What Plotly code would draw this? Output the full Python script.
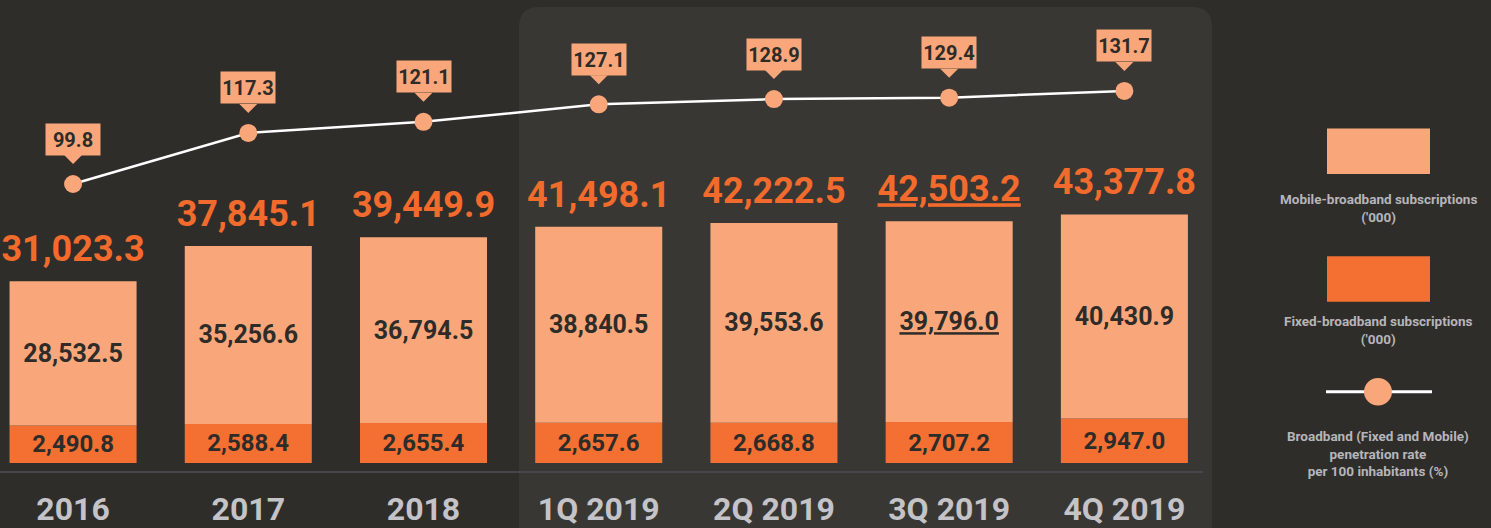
import plotly.graph_objects as go

categories = ['2016', '2017', '2018', '1Q 2019', '2Q 2019', '3Q 2019', '4Q 2019']
mobile = [28532.5, 35256.6, 36794.5, 38840.5, 39553.6, 39796.0, 40430.9]
fixed = [2490.8, 2588.4, 2655.4, 2657.6, 2668.8, 2707.2, 2947.0]
total = [31023.3, 37845.1, 39449.9, 41498.1, 42222.5, 42503.2, 43377.8]
penetration = [99.8, 117.3, 121.1, 127.1, 128.9, 129.4, 131.7]
underlined = '3Q 2019'

BG = '#2f2d2a'
PANEL = '#393733'
LIGHT = '#f9a77a'
ORANGE = '#f37032'
TOTAL_C = '#f26b2d'
DARK = '#2e2c29'
GREY = '#c4c3c8'
LEG_GREY = '#b6b5ba'
FONT = 'Roboto, Liberation Sans, sans-serif'

W, H = 1491, 528
ML, MR, MT, MB = 0, 279, 0, 60
PW, PH = W - ML - MR, H - MT - MB

# the infographic draws the fixed segment on a stretched scale
FIXED_PER_PX = 65.5
MOBILE_PER_PX = 196
base = [f * MOBILE_PER_PX / FIXED_PER_PX for f in fixed]
tops = [b + m for b, m in zip(base, mobile)]


def fmt(v, c):
    s = f"{v:,.1f}"
    return f"<u>{s}</u>" if c == underlined else s


def px(x):
    return (x - ML) / PW


def py(y):
    return (PH + MT - y) / PH


fig = go.Figure()

fig.add_trace(go.Bar(
    x=categories, y=fixed, yaxis='y', width=0.725,
    marker=dict(color=ORANGE, line=dict(width=0)),
    text=[f"{v:,.1f}" for v in fixed], textposition='inside',
    insidetextanchor='middle', textangle=0, constraintext='none',
    insidetextfont=dict(family=FONT, size=24, color=DARK, weight='bold'),
    hoverinfo='skip'
))

fig.add_trace(go.Bar(
    x=categories, y=mobile, base=base, yaxis='y2', width=0.725,
    marker=dict(color=LIGHT, line=dict(width=0)),
    text=[fmt(v, c) for v, c in zip(mobile, categories)], textposition='inside',
    insidetextanchor='middle', textangle=0, constraintext='none',
    insidetextfont=dict(family=FONT, size=25, color=DARK, weight='bold'),
    hoverinfo='skip'
))

fig.add_trace(go.Scatter(
    x=categories, y=tops, yaxis='y2', mode='markers+text',
    marker=dict(size=16, opacity=0),
    text=[fmt(v, c) for v, c in zip(total, categories)],
    textposition='top center',
    textfont=dict(family=FONT, size=36, color=TOTAL_C, weight='bold'),
    cliponaxis=False, hoverinfo='skip'
))

fig.add_trace(go.Scatter(
    x=categories, y=penetration, yaxis='y3', mode='lines+markers',
    line=dict(color='white', width=2.5),
    marker=dict(size=18, color=LIGHT),
    cliponaxis=False, hoverinfo='skip'
))

# category axis: annotation positions go by category index
for i, v in enumerate(penetration):
    fig.add_annotation(
        x=i, y=v, xref='x', yref='y3', text=f"{v:.1f}",
        showarrow=True, ax=0, ay=-45, standoff=20,
        arrowhead=1, arrowsize=3, arrowwidth=1, arrowcolor=LIGHT,
        bgcolor=LIGHT, width=54, height=31, borderpad=0,
        font=dict(family=FONT, size=20, color=DARK, weight='bold')
    )

shapes = [
    # highlighted 2019 panel with rounded top corners
    dict(type='path', xref='paper', yref='paper',
         xsizemode='pixel', ysizemode='pixel', xanchor=1, yanchor=1,
         path='M-693,-700 L-693,-27 Q-693,-7 -673,-7 L-20,-7 Q0,-7 0,-27 L0,-700 Z',
         fillcolor=PANEL, line=dict(width=0), layer='below'),
    # baseline under the bars
    dict(type='line', xref='paper', yref='paper', x0=0, x1=px(1203),
         y0=py(477), y1=py(477), line=dict(color='#48464b', width=2), layer='below'),
    # legend swatches
    dict(type='rect', xref='paper', yref='paper', x0=px(1327), x1=px(1430),
         y0=py(130), y1=py(176), fillcolor=LIGHT, line=dict(width=0)),
    dict(type='rect', xref='paper', yref='paper', x0=px(1327), x1=px(1430),
         y0=py(259), y1=py(305), fillcolor=ORANGE, line=dict(width=0)),
    dict(type='line', xref='paper', yref='paper', x0=px(1326), x1=px(1432),
         y0=py(396), y1=py(396), line=dict(color='white', width=3)),
    dict(type='circle', xref='paper', yref='paper', x0=px(1364), x1=px(1392),
         y0=py(382), y1=py(410), fillcolor=LIGHT, line=dict(width=0)),
]

legend_text = [
    ("Mobile-broadband subscriptions<br>('000)", 210),
    ("Fixed-broadband subscriptions<br>('000)", 334),
    ("Broadband (Fixed and Mobile)<br>penetration rate<br>per 100 inhabitants (%)", 458),
]
for t, y in legend_text:
    fig.add_annotation(
        x=px(1378), y=py(y), xref='paper', yref='paper', text=t, showarrow=False,
        xanchor='center', yanchor='middle', align='center',
        font=dict(family=FONT, size=13.5, color=LEG_GREY, weight='bold')
    )

fig.update_layout(
    width=W, height=H,
    margin=dict(l=ML, r=MR, t=MT, b=MB),
    paper_bgcolor=BG, plot_bgcolor='rgba(0,0,0,0)',
    barmode='overlay', showlegend=False, shapes=shapes,
    xaxis=dict(type='category', range=[-0.417, 6.5], showgrid=False, zeroline=False,
               showline=False, ticks='', ticklabelstandoff=24,
               tickfont=dict(family=FONT, size=32, color=GREY, weight='bold')),
    yaxis=dict(range=[0, PH * FIXED_PER_PX], visible=False),
    yaxis2=dict(range=[0, PH * MOBILE_PER_PX], overlaying='y', visible=False),
    yaxis3=dict(range=[99.8 - (PH - 186) / 2.95, 99.8 + 186 / 2.95], overlaying='y', visible=False),
)

fig.write_html("out.html", config={'displayModeBar': False},
               post_script="document.body.style.margin='0';")
